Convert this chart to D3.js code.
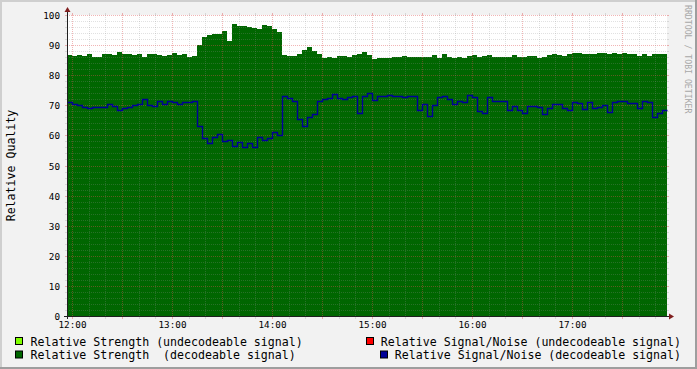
<!DOCTYPE html>
<html>
<head>
<meta charset="utf-8">
<script src="https://cdn.jsdelivr.net/npm/d3@7"></script>
<style>
  html, body { margin: 0; padding: 0; background: #f2f2f2; }
  svg { display: block; }
  text { font-family: "DejaVu Sans Mono", monospace; white-space: pre; }
</style>
</head>
<body>
<svg id="chart" width="697" height="369"></svg>
<script>
// samples every 3 minutes starting 11:57
var startTime = new Date(2020, 0, 1, 11, 57);
var stepMinutes = 3;

// relative strength (decodeable signal)
var strength = [
  86.8, 86.3, 86.7, 86.4, 87.0, 86.2, 86.2, 87.0, 87.2, 86.8,
  87.6, 87.2, 87.0, 86.8, 87.0, 86.2, 87.0, 87.0, 86.6, 86.3,
  86.8, 87.5, 86.8, 87.0, 86.2, 86.3, 90.0, 92.8, 93.5, 93.6,
  93.7, 94.8, 91.5, 97.0, 96.5, 96.5, 96.0, 95.8, 95.3, 96.8,
  96.5, 95.5, 94.5, 86.8, 86.3, 86.4, 87.2, 88.5, 89.3, 88.2,
  87.0, 85.8, 85.9, 85.7, 86.3, 86.5, 86.2, 86.7, 87.0, 87.6,
  86.7, 85.5, 85.8, 85.8, 85.8, 86.2, 86.2, 86.5, 85.9, 85.9,
  86.0, 86.0, 85.9, 86.7, 85.8, 87.0, 86.2, 85.8, 86.0, 85.8,
  86.4, 86.8, 86.2, 86.4, 86.8, 85.9, 86.1, 86.2, 86.0, 86.7,
  86.2, 86.1, 86.5, 86.5, 85.8, 86.2, 86.8, 87.0, 86.8, 86.4,
  87.2, 87.5, 87.3, 87.1, 87.2, 87.2, 87.3, 87.3, 87.2, 87.3,
  87.2, 87.3, 87.0, 87.0, 86.5, 87.0, 86.3, 87.1, 87.0, 87.0
];

// relative signal/noise (decodeable signal)
var snr = [
  71.0, 70.5, 70.2, 69.3, 69.2, 69.6, 69.5, 69.5, 70.3, 69.8,
  68.3, 69.2, 69.3, 70.2, 70.3, 72.0, 70.0, 69.7, 71.3, 70.3,
  71.4, 71.2, 70.4, 71.2, 71.2, 71.4, 63.0, 59.0, 57.5, 59.5,
  60.5, 58.0, 58.5, 56.5, 57.7, 56.0, 57.5, 56.3, 59.5, 58.6,
  59.2, 61.0, 60.0, 73.0, 72.5, 71.5, 65.5, 63.0, 66.0, 67.0,
  71.5, 72.0, 72.3, 73.6, 72.5, 72.0, 72.6, 73.0, 67.5, 73.0,
  74.0, 71.8, 73.0, 73.2, 73.5, 73.1, 73.1, 72.7, 73.1, 73.2,
  68.5, 70.3, 66.5, 70.0, 72.7, 73.2, 72.0, 70.3, 71.5, 71.2,
  73.5, 72.8, 68.0, 67.5, 72.8, 71.3, 71.3, 71.5, 68.5, 69.8,
  68.6, 67.5, 69.9, 69.9, 69.5, 67.2, 69.0, 70.5, 70.3, 69.0,
  68.5, 71.2, 70.9, 68.8, 71.0, 69.2, 69.5, 70.2, 67.8, 71.1,
  71.5, 71.4, 70.9, 70.7, 69.0, 71.5, 71.0, 66.0, 67.5, 68.6
];

var yTicks = [0, 10, 20, 30, 40, 50, 60, 70, 80, 90, 100];

var legendLeft = [
  { label: "Relative Strength (undecodeable signal)", color: "#80ff00" },
  { label: "Relative Strength  (decodeable signal)", color: "#006600" }
];
var legendRight = [
  { label: "Relative Signal/Noise (undecodeable signal)", color: "#ff0000" },
  { label: "Relative Signal/Noise (decodeable signal)", color: "#000099" }
];

var W = 697, H = 369;
var x0 = 67, x1 = 667, yTop = 15, yBot = 316;

var svg = d3.select('#chart');

// background + 3d frame
svg.append('rect').attr('width', W).attr('height', H).attr('fill', '#f2f2f2');
svg.append('path').attr('d', 'M0,0H' + W + 'V2H2V' + H + 'H0Z').attr('fill', '#cfcfcf');
svg.append('path').attr('d', 'M' + W + ',0V' + H + 'H0V' + (H - 2) + 'H' + (W - 2) + 'V0Z').attr('fill', '#9e9e9e');

// canvas
svg.append('rect').attr('x', x0).attr('y', yTop).attr('width', x1 - x0).attr('height', yBot - yTop).attr('fill', '#ffffff');

var endTime = d3.timeMinute.offset(startTime, 360);
var x = d3.scaleTime().domain([startTime, endTime]).range([x0, x1]);
var y = d3.scaleLinear().domain([0, 100]).range([yBot, yTop]);

function toPoints(arr) {
  var pts = arr.map(function (v, i) {
    return { t: d3.timeMinute.offset(startTime, i * stepMinutes), v: v };
  });
  pts.push({ t: endTime, v: arr[arr.length - 1] });
  return pts;
}

var area = d3.area()
  .curve(d3.curveStepAfter)
  .x(function (d) { return x(d.t); })
  .y0(yBot)
  .y1(function (d) { return Math.round(y(d.v)); });

svg.append('path')
  .datum(toPoints(strength))
  .attr('d', area)
  .attr('fill', '#006600')
  .attr('shape-rendering', 'crispEdges');

var line = d3.line()
  .curve(d3.curveStepAfter)
  .x(function (d) { return Math.round(x(d.t)) + 0.5; })
  .y(function (d) { return Math.round(y(d.v)) + 0.5; });

// grid (drawn over the graph, rrdtool style)
var minorCol = 'rgba(143,143,143,0.27)';
var majorCol = 'rgba(222,79,79,0.42)';
var minorY = d3.range(0, 101, 2);
var grid = svg.append('g').attr('shape-rendering', 'crispEdges');
minorY.forEach(function (v) {
  var yy = Math.round(y(v)) + 0.5;
  var col = v % 10 === 0 ? majorCol : minorCol;
  if (v !== 0) {
    grid.append('line').attr('x1', x0).attr('x2', x1).attr('y1', yy).attr('y2', yy)
      .attr('stroke', col).attr('stroke-dasharray', '1,1');
  }
  grid.append('line').attr('x1', x0 - 2).attr('x2', x0).attr('y1', yy).attr('y2', yy).attr('stroke', col);
  grid.append('line').attr('x1', x1).attr('x2', x1 + 2).attr('y1', yy).attr('y2', yy).attr('stroke', col);
});
d3.timeMinute.every(10).range(startTime, endTime).forEach(function (t) {
  var xx = Math.round(x(t)) + 0.5;
  var col = t.getMinutes() % 30 === 0 ? majorCol : minorCol;
  grid.append('line').attr('x1', xx).attr('x2', xx).attr('y1', yTop).attr('y2', yBot)
    .attr('stroke', col).attr('stroke-dasharray', '1,1');
  grid.append('line').attr('x1', xx).attr('x2', xx).attr('y1', yBot).attr('y2', yBot + 3).attr('stroke', col);
  grid.append('line').attr('x1', xx).attr('x2', xx).attr('y1', yTop - 2).attr('y2', yTop).attr('stroke', col);
});

svg.append('path')
  .datum(toPoints(snr))
  .attr('d', line)
  .attr('fill', 'none')
  .attr('stroke', '#000099')
  .attr('stroke-width', 1.4);

// axes
svg.append('line').attr('x1', x0 + 0.5).attr('x2', x0 + 0.5).attr('y1', yBot + 3).attr('y2', 10).attr('stroke', '#1f1f1f');
svg.append('line').attr('x1', x0 - 3).attr('x2', x1 + 4).attr('y1', yBot + 0.5).attr('y2', yBot + 0.5).attr('stroke', '#1f1f1f');
svg.append('path').attr('d', 'M' + (x0 + 0.5) + ',7L' + (x0 + 3.5) + ',12L' + (x0 - 2.5) + ',12Z').attr('fill', '#801f1f');
svg.append('path').attr('d', 'M' + (x1 + 7) + ',' + (yBot + 0.5) + 'L' + (x1 + 2) + ',' + (yBot - 2.5) + 'L' + (x1 + 2) + ',' + (yBot + 3.5) + 'Z').attr('fill', '#801f1f');

// y labels
svg.append('g').selectAll('text').data(yTicks).enter().append('text')
  .attr('x', 60).attr('y', function (d) { return Math.round(y(d)) + 3.5; })
  .attr('text-anchor', 'end').attr('font-size', '9.3px').attr('fill', '#000')
  .text(function (d) { return d; });

// x labels
var fmt = d3.timeFormat('%H:%M');
svg.append('g').selectAll('text').data(d3.timeHour.every(1).range(startTime, endTime)).enter().append('text')
  .attr('x', function (d) { return Math.round(x(d)) + 0.5; }).attr('y', 328)
  .attr('text-anchor', 'middle').attr('font-size', '9.3px').attr('fill', '#000')
  .text(fmt);

// y title
svg.append('text').attr('transform', 'translate(15,' + ((yTop + yBot) / 2) + ') rotate(-90)')
  .attr('text-anchor', 'middle').attr('font-size', '11.6px').attr('fill', '#000')
  .text('Relative Quality');

// watermark
svg.append('text').attr('transform', 'translate(685,5) rotate(90)')
  .attr('font-size', '8.2px').attr('fill', '#a8a8a8')
  .text('RRDTOOL / TOBI OETIKER');

// legend
var rowY = [345.5, 359];
legendLeft.forEach(function (d, i) {
  svg.append('rect').attr('x', 15.5).attr('y', rowY[i] - 8).attr('width', 7).attr('height', 7)
    .attr('fill', d.color).attr('stroke', '#000');
  svg.append('text').attr('x', 30.5).attr('y', rowY[i]).attr('font-size', '11.6px').attr('fill', '#000').text(d.label);
});
legendRight.forEach(function (d, i) {
  var t = svg.append('text').attr('x', 681).attr('y', rowY[i]).attr('text-anchor', 'end')
    .attr('font-size', '11.6px').attr('fill', '#000').text(d.label);
  var w = t.node().getComputedTextLength();
  var bx = Math.round(681 - w - 15) + 0.5;
  svg.append('rect').attr('x', bx).attr('y', rowY[i] - 8).attr('width', 7).attr('height', 7)
    .attr('fill', d.color).attr('stroke', '#000');
});
</script>
</body>
</html>
